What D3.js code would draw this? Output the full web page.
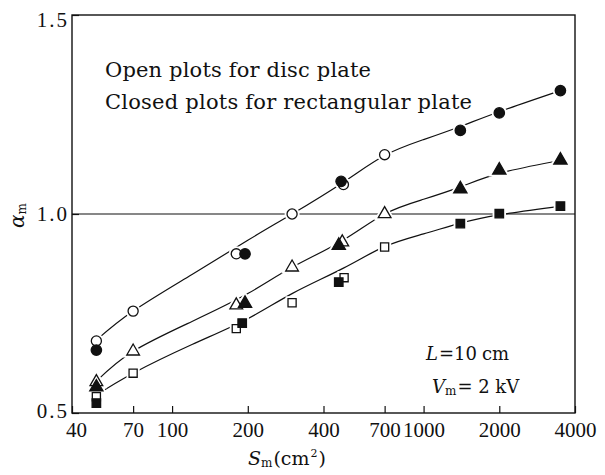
<!DOCTYPE html>
<html>
<head>
<meta charset="utf-8">
<script src="https://cdn.jsdelivr.net/npm/d3@7"></script>
<style>
  html, body { margin: 0; padding: 0; background: #fff; }
  svg { display: block; }
</style>
</head>
<body>
<svg id="chart" width="605" height="475"></svg>
<script>
// Axis ticks
const xTicks = [40, 70, 100, 200, 400, 700, 1000, 2000, 4000];
const yTicks = [0.5, 1.0, 1.5];

// Measured points: [S_m (cm^2), alpha_m]
const openCircles   = [[50, 0.681], [70, 0.756], [180, 0.900], [300, 1.000], [480, 1.074], [700, 1.149]];
const closedCircles = [[50, 0.658], [195, 0.900], [470, 1.082], [1400, 1.210], [2000, 1.254], [3500, 1.310]];
const openTriangles   = [[50, 0.578], [70, 0.655], [180, 0.771], [300, 0.866], [475, 0.929], [700, 1.000]];
const closedTriangles = [[50, 0.565], [195, 0.775], [460, 0.921], [1400, 1.063], [2000, 1.110], [3500, 1.135]];
const openSquares   = [[50, 0.541], [70, 0.600], [180, 0.712], [300, 0.777], [483, 0.840], [700, 0.917]];
const closedSquares = [[50, 0.525], [190, 0.726], [460, 0.829], [1400, 0.976], [2000, 1.001], [3500, 1.020]];

// Smoothed fitting curves drawn through each group
const circleCurve   = [[50, 0.683], [70, 0.756], [120, 0.848], [200, 0.934], [300, 1.000], [480, 1.080], [700, 1.147], [1000, 1.187], [1400, 1.220], [2000, 1.257], [3500, 1.310]];
const triangleCurve = [[50, 0.580], [70, 0.655], [120, 0.730], [200, 0.800], [300, 0.866], [475, 0.933], [700, 1.000], [1000, 1.037], [1400, 1.068], [2000, 1.102], [3500, 1.135]];
const squareCurve   = [[50, 0.545], [70, 0.600], [120, 0.672], [200, 0.737], [300, 0.800], [480, 0.864], [700, 0.918], [1000, 0.950], [1400, 0.977], [2000, 0.998], [3500, 1.020]];

const plotLeft = 72, plotRight = 575, plotTop = 15, plotBottom = 413;
const svg = d3.select("#chart");

const x = d3.scaleLog().domain([40, 4000]).range([plotLeft, plotRight]);
const y = d3.scaleLinear().domain([0.5, 1.5]).range([plotBottom, plotTop]);

const ink = "#111";

// Reference line at alpha = 1.0
svg.append("line")
  .attr("x1", plotLeft).attr("x2", plotRight)
  .attr("y1", y(1.0)).attr("y2", y(1.0))
  .attr("stroke", ink).attr("stroke-width", 1.2);

// Fitted curves
const line = d3.line()
  .x(d => x(d[0])).y(d => y(d[1]))
  .curve(d3.curveNatural);

[circleCurve, triangleCurve, squareCurve].forEach(c => {
  svg.append("path")
    .attr("d", line(c))
    .attr("fill", "none")
    .attr("stroke", ink)
    .attr("stroke-width", 1.2);
});

// Markers
const groups = [
  { data: openCircles,     type: d3.symbolCircle,   size: 80, filled: false },
  { data: closedCircles,   type: d3.symbolCircle,   size: 85, filled: true },
  { data: openTriangles,   type: d3.symbolTriangle, size: 70, filled: false },
  { data: closedTriangles, type: d3.symbolTriangle, size: 76, filled: true },
  { data: openSquares,     type: d3.symbolSquare,   size: 66, filled: false },
  { data: closedSquares,   type: d3.symbolSquare,   size: 72, filled: true }
];

// White halos so the lines break around each marker
const halo = svg.append("g");
const marks = svg.append("g");
groups.forEach(g => {
  const sym = d3.symbol().type(g.type).size(g.size);
  halo.selectAll(null).data(g.data).join("path")
    .attr("transform", d => `translate(${x(d[0])},${y(d[1])})`)
    .attr("d", sym)
    .attr("fill", "#fff")
    .attr("stroke", "#fff")
    .attr("stroke-width", 5);
  marks.selectAll(null).data(g.data).join("path")
    .attr("transform", d => `translate(${x(d[0])},${y(d[1])})`)
    .attr("d", sym)
    .attr("fill", g.filled ? ink : "#fff")
    .attr("stroke", ink)
    .attr("stroke-width", 1.3);
});

// Frame
svg.append("rect")
  .attr("x", plotLeft).attr("y", plotTop)
  .attr("width", plotRight - plotLeft).attr("height", plotBottom - plotTop)
  .attr("fill", "none").attr("stroke", ink).attr("stroke-width", 1.4);

const serif = "'Liberation Serif', serif";
const wideSerif = "'DejaVu Serif', serif";

// Bottom axis: inward ticks
const xAxis = d3.axisBottom(x).tickValues(xTicks).tickSizeInner(-7).tickSizeOuter(0)
  .tickFormat(d3.format("d")).tickPadding(9);
const gx = svg.append("g").attr("transform", `translate(0,${plotBottom})`).call(xAxis);
gx.select(".domain").remove();
gx.selectAll(".tick line").attr("stroke", ink).attr("stroke-width", 1.2);
gx.selectAll(".tick text")
  .attr("fill", ink)
  .style("font-family", serif)
  .style("font-size", "21px")
  .attr("dx", d => d === 40 ? 4 : 0);

// Left axis: inward ticks
const yAxis = d3.axisLeft(y).tickValues(yTicks).tickSizeInner(-7).tickSizeOuter(0)
  .tickFormat(d3.format(".1f"));
const gy = svg.append("g").attr("transform", `translate(${plotLeft},0)`).call(yAxis);
gy.select(".domain").remove();
gy.selectAll(".tick line").attr("stroke", ink).attr("stroke-width", 1.2);
gy.selectAll(".tick text")
  .attr("fill", ink)
  .attr("x", -3)
  .attr("dy", d => d === 1.5 ? "0.55em" : (d === 0.5 ? "0.22em" : "0.32em"))
  .style("font-family", serif)
  .style("font-size", "21px")
  .style("letter-spacing", "2px");

// Axis titles
const xt = svg.append("text")
  .attr("x", 248).attr("y", 465)
  .style("font-family", wideSerif).style("font-size", "19px").attr("fill", ink);
xt.append("tspan").text("S").style("font-style", "italic");
xt.append("tspan").text("m").style("font-size", "12px").attr("dy", 2);
xt.append("tspan").text("(cm").attr("dy", -2).attr("dx", 1);
xt.append("tspan").text("2").style("font-size", "11px").attr("dy", -8).attr("dx", 1);
xt.append("tspan").text(")").attr("dy", 8).attr("dx", 1);

const yt = svg.append("text")
  .attr("transform", "translate(24,228) rotate(-90)")
  .style("font-family", wideSerif).style("font-size", "20px").attr("fill", ink);
yt.append("tspan").text("α").style("font-style", "italic");
yt.append("tspan").text("m").style("font-size", "12px").attr("dy", 2);

// Legend notes
svg.append("text")
  .attr("x", 105).attr("y", 77)
  .attr("textLength", 266).attr("lengthAdjust", "spacing")
  .style("font-family", wideSerif).style("font-size", "21px").attr("fill", ink)
  .text("Open plots for disc plate");
svg.append("text")
  .attr("x", 105).attr("y", 109)
  .attr("textLength", 367).attr("lengthAdjust", "spacing")
  .style("font-family", wideSerif).style("font-size", "21px").attr("fill", ink)
  .text("Closed plots for rectangular plate");

// Conditions
const c1 = svg.append("text")
  .attr("x", 426).attr("y", 360)
  .style("font-family", wideSerif).style("font-size", "18px").attr("fill", ink);
c1.append("tspan").text("L").style("font-style", "italic");
c1.append("tspan").text("=10").attr("dx", 1);
c1.append("tspan").text("cm").attr("dx", 5);

const c2 = svg.append("text")
  .attr("x", 432).attr("y", 393)
  .style("font-family", wideSerif).style("font-size", "18px").attr("fill", ink);
c2.append("tspan").text("V").style("font-style", "italic");
c2.append("tspan").text("m").style("font-size", "12px").attr("dy", 2);
c2.append("tspan").text("= 2 kV").attr("dy", -2).attr("dx", 1);
</script>
</body>
</html>
